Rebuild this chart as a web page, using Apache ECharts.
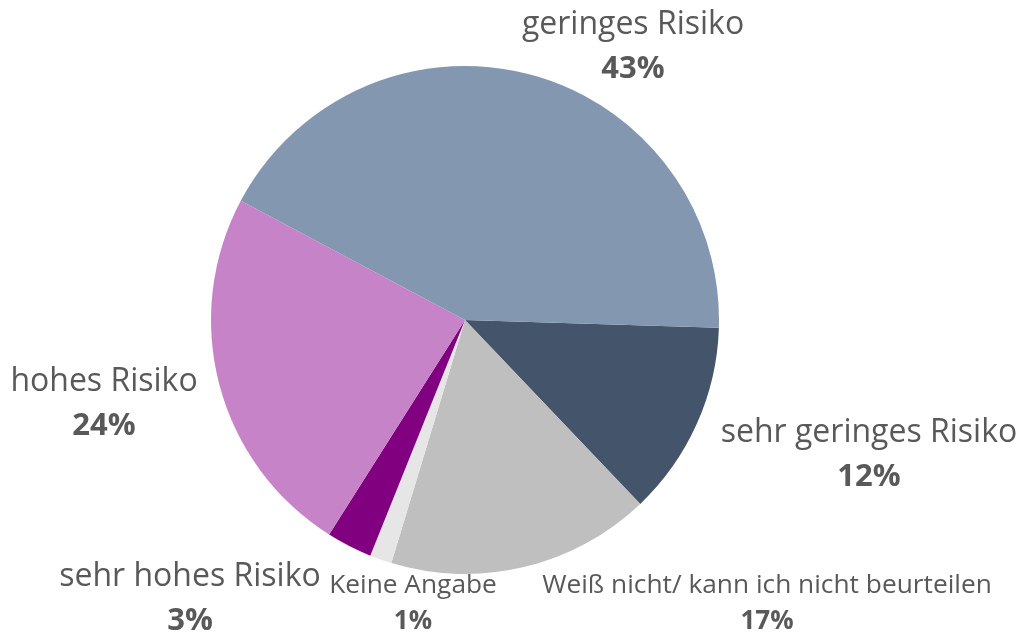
<!DOCTYPE html>
<html>
<head>
<meta charset="utf-8">
<script src="https://cdn.jsdelivr.net/npm/echarts@6/dist/echarts.min.js"></script>
<style>
  html, body { margin: 0; padding: 0; background: #fff; }
  #riskChart { width: 1021px; height: 635px; }
</style>
</head>
<body>
<div id="riskChart"></div>
<script>
// slices in clockwise order, starting just below 3 o'clock
var categories = [
  "sehr geringes Risiko",
  "Weiß nicht/ kann ich nicht beurteilen",
  "Keine Angabe",
  "sehr hohes Risiko",
  "hohes Risiko",
  "geringes Risiko"
];
var shares = [12.4, 16.8, 1.4, 2.9, 23.8, 42.7];
var sliceColors = ["#44546A", "#BFBFBF", "#E7E6E6", "#800080", "#C683C8", "#8497B0"];

// where each label block sits (centre of the two lines)
var labelSpots = [
  [869, 455],
  [767, 604],
  [413, 604],
  [190, 599],
  [104, 404],
  [633, 47]
];
var smallLabels = [1, 2];

var chartDom = document.getElementById("riskChart");
var myChart = echarts.init(chartDom);

var pieData = categories.map(function (name, i) {
  var small = smallLabels.indexOf(i) >= 0;
  return {
    name: name,
    value: shares[i],
    itemStyle: { color: sliceColors[i] },
    label: {
      formatter: small ? "{ns|{b}}\n{ps|{d}%}" : "{n|{b}}\n{p|{d}%}"
    }
  };
});

var option = {
  animation: false,
  series: [
    {
      type: "pie",
      center: [465, 320],
      radius: 254,
      startAngle: -1.74,
      clockwise: true,
      data: pieData,
      percentPrecision: 0,
      labelLine: { show: false },
      label: {
        show: true,
        position: "outside",
        overflow: "none",
        fontFamily: "Open Sans",
        color: "#595959",
        rich: {
          n: { fontFamily: "Open Sans", fontSize: 32, color: "#595959", lineHeight: 44, align: "center" },
          p: { fontFamily: "Open Sans", fontSize: 31, fontWeight: "bold", color: "#595959", lineHeight: 44, align: "center" },
          ns: { fontFamily: "Open Sans", fontSize: 26.3, color: "#595959", lineHeight: 36, align: "center" },
          ps: { fontFamily: "Open Sans", fontSize: 26, fontWeight: "bold", color: "#595959", lineHeight: 36, align: "center" }
        }
      },
      labelLayout: function (params) {
        var spot = labelSpots[params.dataIndex];
        return {
          x: spot[0],
          y: spot[1],
          align: "center",
          verticalAlign: "middle"
        };
      },
      emphasis: { disabled: true }
    }
  ]
};

myChart.setOption(option);
</script>
</body>
</html>
